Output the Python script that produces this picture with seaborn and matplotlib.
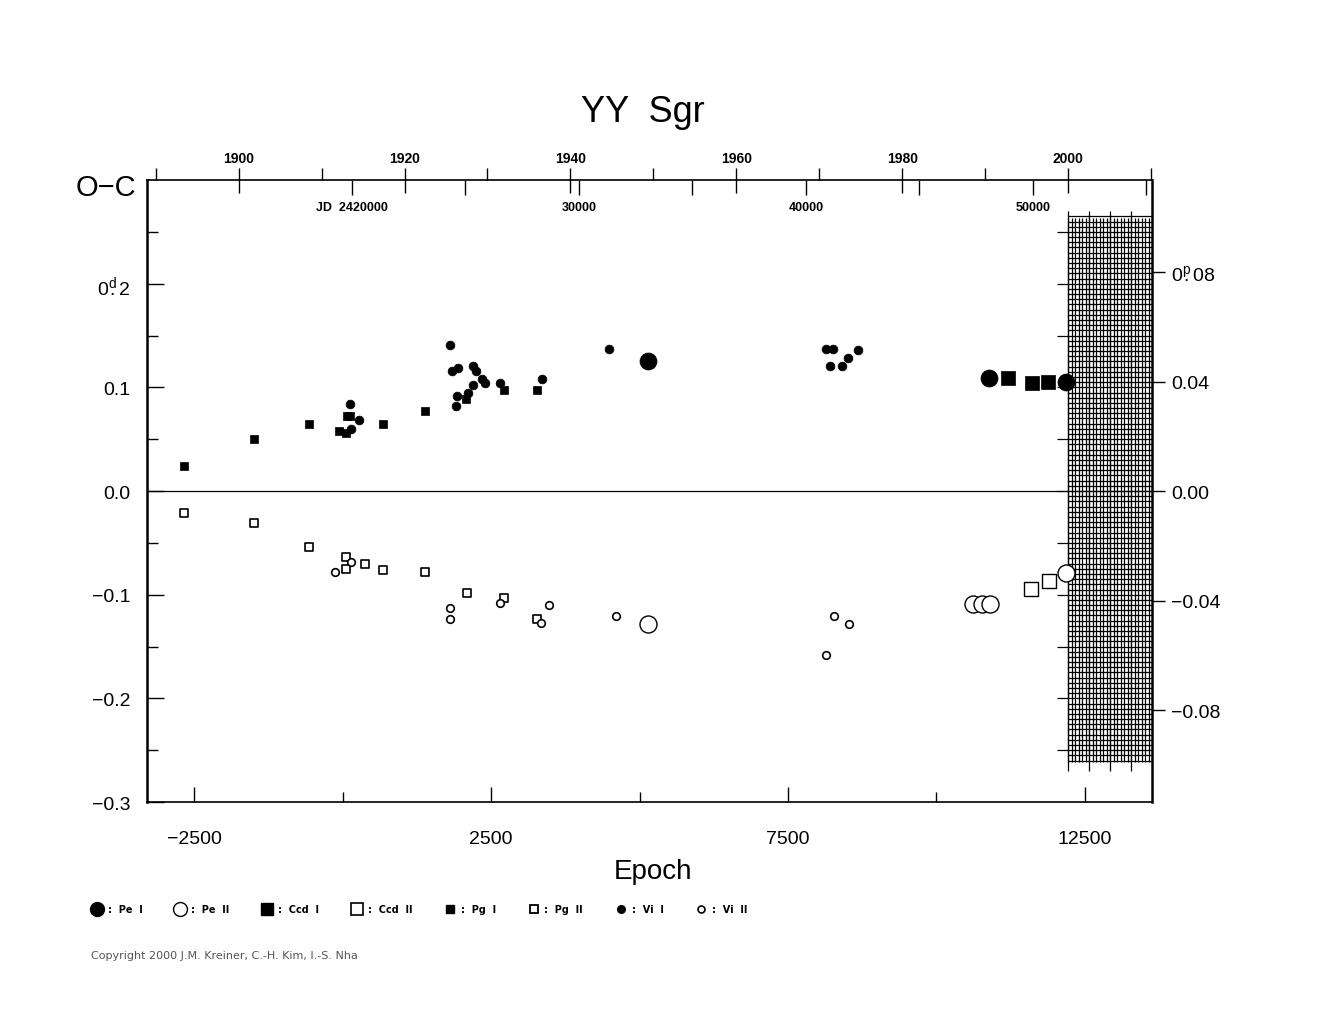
import matplotlib
matplotlib.use('Agg')
import matplotlib.pyplot as plt
from matplotlib.lines import Line2D
import numpy as np
import seaborn as sns

sns.set_style('white')
plt.rcParams['font.family'] = ['Liberation Sans', 'DejaVu Sans']
plt.rcParams['text.color'] = 'black'
plt.rcParams['xtick.color'] = 'black'
plt.rcParams['ytick.color'] = 'black'
plt.rcParams['mathtext.fontset'] = 'custom'
plt.rcParams['mathtext.rm'] = 'Liberation Sans'
plt.rcParams['mathtext.default'] = 'regular'

# O-C values (days) against epoch
pe1_epoch = [5148, 10884, 12175]
pe1_oc = [0.1253, 0.1093, 0.1055]
pe2_epoch = [5148, 10620, 10761, 10901, 12175]
pe2_oc = [-0.128, -0.1093, -0.1093, -0.1087, -0.0791]

ccd1_epoch = [11199, 11603, 11882]
ccd1_oc = [0.1087, 0.1045, 0.1051]
ccd2_epoch = [11599, 11896]
ccd2_oc = [-0.0942, -0.0872]

pg1_epoch = [-2673, -1485, -569, -64, 54, 70, 126, 687, 1384, 2077, 2719, 3269]
pg1_oc = [0.0243, 0.050, 0.0644, 0.0583, 0.056, 0.072, 0.072, 0.0644, 0.0772,
          0.0885, 0.0971, 0.0971]
pg2_epoch = [-2673, -1485, -569, 54, 54, 374, 687, 1384, 2091, 2719, 3269]
pg2_oc = [-0.0212, -0.031, -0.0535, -0.0638, -0.075, -0.0699, -0.076, -0.0785,
          -0.0984, -0.1032, -0.1237]

vi1_epoch = [126, 278, 148, 1815, 1838, 1949, 2202, 2247, 2353, 2394, 2202,
             1927, 1910, 2107, 2647, 3350, 4487, 8140, 8252, 8207, 8414, 8515, 8683]
vi1_oc = [0.0837, 0.069, 0.0596, 0.141, 0.116, 0.119, 0.121, 0.1157, 0.1077,
          0.1038, 0.1026, 0.0917, 0.082, 0.0949, 0.1045, 0.108, 0.137, 0.137,
          0.137, 0.121, 0.1205, 0.1285, 0.1356]
vi2_epoch = [148, -121, 1815, 1815, 2652, 3476, 3347, 4604, 8274, 8519, 8140]
vi2_oc = [-0.068, -0.078, -0.1128, -0.1237, -0.1077, -0.1096, -0.1276, -0.1208,
          -0.1205, -0.128, -0.158]

# ephemeris used for the top axes
period = 2.6157
jd0 = 19594.8          # JD - 2400000 of epoch 0
jd_1900 = 15020.0

def epoch_to_jd(e):
    return jd0 + np.asarray(e) * period

def jd_to_epoch(j):
    return (np.asarray(j) - jd0) / period

def epoch_to_year(e):
    return 1900 + (epoch_to_jd(e) - jd_1900) / 365.25

def year_to_epoch(y):
    return jd_to_epoch(jd_1900 + (np.asarray(y) - 1900) * 365.25)

xmin, xmax = -3291, 13628
ymin, ymax = -0.3, 0.3

fig = plt.figure(figsize=(13.25, 10.2), dpi=100)
ax = fig.add_axes([0.111, 0.2127, 0.7584, 0.6098])

# points
big = 150
sns.scatterplot(x=pe1_epoch, y=pe1_oc, marker='o', s=big, color='black',
                edgecolor='black', linewidth=0.5, ax=ax, zorder=5)
sns.scatterplot(x=pe2_epoch, y=pe2_oc, marker='o', s=big, color='white',
                edgecolor='black', linewidth=1.0, ax=ax, zorder=5)
sns.scatterplot(x=ccd1_epoch, y=ccd1_oc, marker='s', s=95, color='black',
                edgecolor='black', linewidth=0.5, ax=ax, zorder=5)
sns.scatterplot(x=ccd2_epoch, y=ccd2_oc, marker='s', s=95, color='white',
                edgecolor='black', linewidth=1.0, ax=ax, zorder=5)
sns.scatterplot(x=pg1_epoch, y=pg1_oc, marker='s', s=40, color='black',
                edgecolor='black', linewidth=0.5, ax=ax, zorder=5)
sns.scatterplot(x=pg2_epoch, y=pg2_oc, marker='s', s=32, color='white',
                edgecolor='black', linewidth=1.2, ax=ax, zorder=5)
sns.scatterplot(x=vi1_epoch, y=vi1_oc, marker='o', s=40, color='black',
                edgecolor='black', linewidth=0.5, ax=ax, zorder=5)
sns.scatterplot(x=vi2_epoch, y=vi2_oc, marker='o', s=30, color='white',
                edgecolor='black', linewidth=1.2, ax=ax, zorder=5)

ax.axhline(0, color='black', lw=0.9, zorder=1)

# hatched region after year 2000
h0 = float(year_to_epoch(2000))
vx = np.arange(h0, xmax, 59.0)
ax.vlines(vx, -0.2615, 0.2635, color='black', lw=0.9, zorder=2)
ax.vlines(vx[::6], -0.27, 0.27, color='black', lw=0.9, zorder=2)
hy = np.arange(-0.26, 0.2651, 0.005)
ax.hlines(hy, h0, xmax, color='black', lw=0.9, zorder=2)
ty = np.arange(-0.25, 0.2501, 0.05)
ax.hlines(ty, h0 - 185, h0, color='black', lw=0.9, zorder=2)

ax.set_xlim(xmin, xmax)
ax.set_ylim(ymin, ymax)

for side in ['left', 'right']:
    ax.spines[side].set_linewidth(1.8)
for side in ['top', 'bottom']:
    ax.spines[side].set_linewidth(1.2)
for s in ax.spines.values():
    s.set_color('black')

ax.set_xticks([-2500, 2500, 7500, 12500])
ax.set_xticklabels(['\u22122500', '2500', '7500', '12500'])
ax.set_xticks([0, 5000, 10000], minor=True)
ax.set_yticks([-0.3, -0.2, -0.1, 0.0, 0.1, 0.2])
ax.set_yticklabels(['\u22120.3', '\u22120.2', '\u22120.1', '0.0', '0.1',
                    r'$0^{d}\!\!.2$'])
ax.set_yticks([-0.25, -0.15, -0.05, 0.05, 0.15, 0.25], minor=True)
ax.tick_params(axis='x', which='major', direction='in', length=11, width=1,
               labelsize=14, pad=20, bottom=True)
ax.tick_params(axis='x', which='minor', direction='in', length=7, width=1, bottom=True)
ax.tick_params(axis='y', which='major', direction='in', length=12, width=1,
               labelsize=14, pad=12, left=True)
ax.tick_params(axis='y', which='minor', direction='in', length=8, width=1, left=True)

# right axis in phase units
ax2 = ax.twinx()
ax2.set_ylim(-0.1136, 0.1136)
ax2.set_yticks([-0.08, -0.04, 0.0, 0.04, 0.08])
ax2.set_yticklabels(['\u22120.08', '\u22120.04', '0.00', '0.04',
                     r'$0^{p}\!\!.08$'])
ax2.tick_params(axis='y', direction='out', length=9, width=1, labelsize=14, pad=5, right=True)
for s in ax2.spines.values():
    s.set_visible(False)
ax2.grid(False)

# top: calendar years
axy = ax.secondary_xaxis('top', functions=(epoch_to_year, year_to_epoch))
axy.set_xticks([1900, 1920, 1940, 1960, 1980, 2000])
axy.set_xticklabels(['1900', '1920', '1940', '1960', '1980', '2000'],
                    fontsize=10, fontweight='bold')
axy.set_xticks([1890, 1910, 1930, 1950, 1970, 1990, 2010], minor=True)
axy.tick_params(which='major', direction='inout', length=18, width=1, pad=2)
axy.tick_params(which='minor', direction='out', length=9, width=1)
axy.spines['top'].set_visible(False)

# top: Julian dates
axj = ax.secondary_xaxis('top', functions=(epoch_to_jd, jd_to_epoch))
axj.set_xticks([20000, 30000, 40000, 50000])
axj.set_xticklabels(['JD  2420000', '30000', '40000', '50000'],
                    fontsize=9, fontweight='bold')
axj.set_xticks([25000, 35000, 45000, 55000], minor=True)
axj.tick_params(which='both', direction='in', length=11, width=1, pad=-24)
axj.spines['top'].set_visible(False)

ax.grid(False)
ax.set_xlabel('')
ax.set_ylabel('')

fig.text(0.485, 1 - 112 / 1020, 'YY  Sgr', fontsize=26, ha='center', va='center')
fig.text(0.057, 1 - 188 / 1020, 'O\u2212C', fontsize=21, ha='left', va='center')
fig.text(0.493, 1 - 872 / 1020, 'Epoch', fontsize=20, ha='center', va='center')

handles = [
    Line2D([], [], ls='', marker='o', ms=10, mfc='black', mec='black'),
    Line2D([], [], ls='', marker='o', ms=10, mfc='white', mec='black', mew=1),
    Line2D([], [], ls='', marker='s', ms=8.5, mfc='black', mec='black'),
    Line2D([], [], ls='', marker='s', ms=8.5, mfc='white', mec='black', mew=1.2),
    Line2D([], [], ls='', marker='s', ms=6, mfc='black', mec='black'),
    Line2D([], [], ls='', marker='s', ms=5.5, mfc='white', mec='black', mew=1.3),
    Line2D([], [], ls='', marker='o', ms=5.5, mfc='black', mec='black'),
    Line2D([], [], ls='', marker='o', ms=5, mfc='white', mec='black', mew=1.2),
]
labels = [':  Pe  I', ':  Pe  II', ':  Ccd  I', ':  Ccd  II', ':  Pg  I', ':  Pg  II',
          ':  Vi  I', ':  Vi  II']
leg = fig.legend(handles, labels, loc='center left', bbox_to_anchor=(0.063, 1 - 910 / 1020),
                 ncol=8, frameon=False, handlelength=1.0, handletextpad=0.6,
                 columnspacing=3.4, prop={'size': 7, 'weight': 'bold', 'family': 'DejaVu Sans'})

fig.text(0.069, 1 - 956 / 1020, 'Copyright 2000 J.M. Kreiner, C.-H. Kim, I.-S. Nha',
         fontsize=8, color='#555555', ha='left', va='center', family='DejaVu Sans')

fig.savefig('out.png', dpi=100)
